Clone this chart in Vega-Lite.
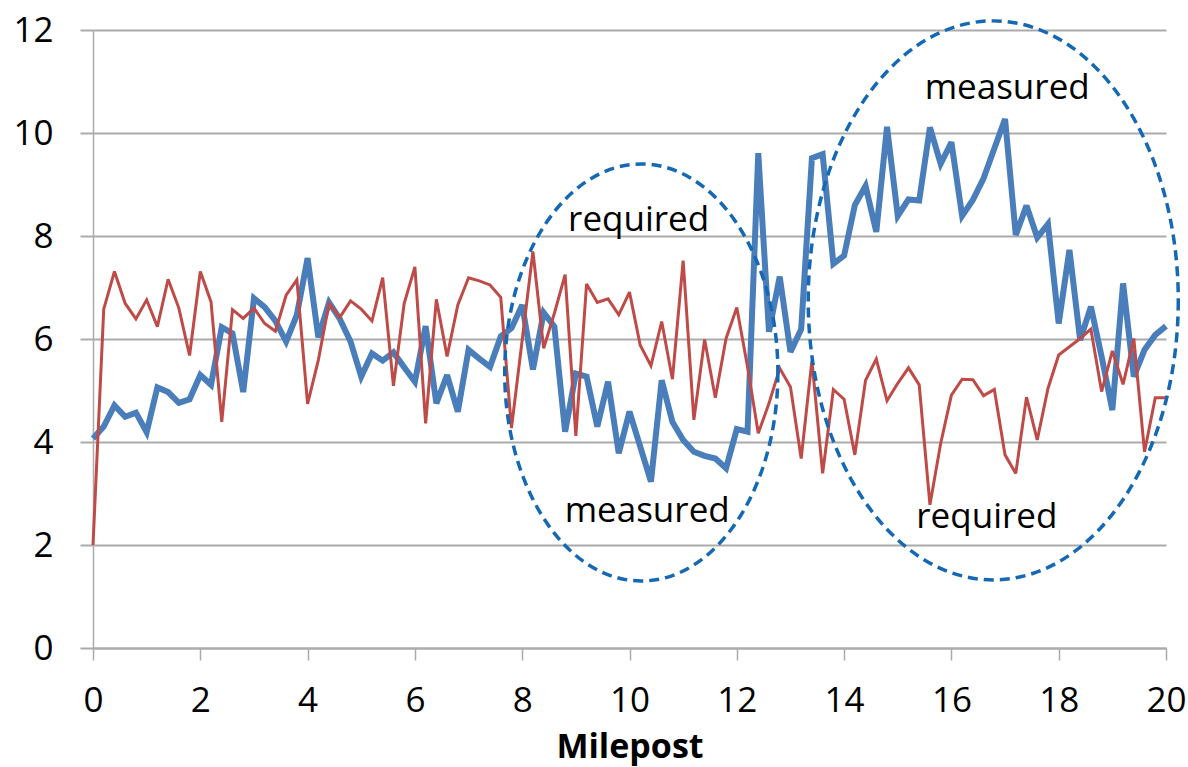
{
  "$schema": "https://vega.github.io/schema/vega-lite/v6.json",
  "autosize": {"type": "none"},
  "padding": {"left": 93, "top": 30, "right": 22, "bottom": 119},
  "width": 1073,
  "height": 618,
  "background": "white",
  "config": {
    "font": "Open Sans",
    "view": {"stroke": null},
    "axis": {"labelFont": "Open Sans", "titleFont": "Open Sans", "labelColor": "#000", "titleColor": "#000"}
  },
  "datasets": {
    "series": [
      {"mp": 0.0, "required": 2.0, "measured": 4.07},
      {"mp": 0.2, "required": 6.58, "measured": 4.30},
      {"mp": 0.4, "required": 7.31, "measured": 4.71},
      {"mp": 0.6, "required": 6.69, "measured": 4.49},
      {"mp": 0.8, "required": 6.39, "measured": 4.57},
      {"mp": 1.0, "required": 6.76, "measured": 4.19},
      {"mp": 1.2, "required": 6.24, "measured": 5.06},
      {"mp": 1.4, "required": 7.16, "measured": 4.97},
      {"mp": 1.6, "required": 6.6, "measured": 4.76},
      {"mp": 1.8, "required": 5.68, "measured": 4.83},
      {"mp": 2.0, "required": 7.31, "measured": 5.30},
      {"mp": 2.2, "required": 6.72, "measured": 5.11},
      {"mp": 2.4, "required": 4.39, "measured": 6.23},
      {"mp": 2.6, "required": 6.57, "measured": 6.11},
      {"mp": 2.8, "required": 6.40, "measured": 4.97},
      {"mp": 3.0, "required": 6.6, "measured": 6.79},
      {"mp": 3.2, "required": 6.3, "measured": 6.62},
      {"mp": 3.4, "required": 6.15, "measured": 6.35},
      {"mp": 3.6, "required": 6.85, "measured": 5.95},
      {"mp": 3.8, "required": 7.15, "measured": 6.47},
      {"mp": 4.0, "required": 4.74, "measured": 7.57},
      {"mp": 4.2, "required": 5.59, "measured": 6.03},
      {"mp": 4.4, "required": 6.69, "measured": 6.71},
      {"mp": 4.6, "required": 6.42, "measured": 6.39},
      {"mp": 4.8, "required": 6.74, "measured": 5.95},
      {"mp": 5.0, "required": 6.58, "measured": 5.27},
      {"mp": 5.2, "required": 6.35, "measured": 5.72},
      {"mp": 5.4, "required": 7.19, "measured": 5.58},
      {"mp": 5.6, "required": 5.09, "measured": 5.74},
      {"mp": 5.8, "required": 6.69, "measured": 5.45},
      {"mp": 6.0, "required": 7.40, "measured": 5.17},
      {"mp": 6.2, "required": 4.36, "measured": 6.25},
      {"mp": 6.4, "required": 6.77, "measured": 4.75},
      {"mp": 6.6, "required": 5.66, "measured": 5.30},
      {"mp": 6.8, "required": 6.66, "measured": 4.59},
      {"mp": 7.0, "required": 7.19, "measured": 5.79},
      {"mp": 7.2, "required": 7.13, "measured": 5.62},
      {"mp": 7.4, "required": 7.05, "measured": 5.46},
      {"mp": 7.6, "required": 6.81, "measured": 6.05},
      {"mp": 7.8, "required": 4.27, "measured": 6.21},
      {"mp": 8.0, "required": 5.98, "measured": 6.66},
      {"mp": 8.2, "required": 7.70, "measured": 5.41},
      {"mp": 8.4, "required": 5.82, "measured": 6.51},
      {"mp": 8.6, "required": 6.5, "measured": 6.24},
      {"mp": 8.8, "required": 7.25, "measured": 4.20},
      {"mp": 9.0, "required": 4.12, "measured": 5.33},
      {"mp": 9.2, "required": 7.07, "measured": 5.27},
      {"mp": 9.4, "required": 6.71, "measured": 4.30},
      {"mp": 9.6, "required": 6.78, "measured": 5.17},
      {"mp": 9.8, "required": 6.47, "measured": 3.78},
      {"mp": 10.0, "required": 6.91, "measured": 4.59},
      {"mp": 10.2, "required": 5.88, "measured": 3.91},
      {"mp": 10.4, "required": 5.48, "measured": 3.23},
      {"mp": 10.6, "required": 6.34, "measured": 5.20},
      {"mp": 10.8, "required": 5.22, "measured": 4.39},
      {"mp": 11.0, "required": 7.52, "measured": 4.04},
      {"mp": 11.2, "required": 4.43, "measured": 3.81},
      {"mp": 11.4, "required": 5.99, "measured": 3.73},
      {"mp": 11.6, "required": 4.86, "measured": 3.68},
      {"mp": 11.8, "required": 6.01, "measured": 3.49},
      {"mp": 12.0, "required": 6.61, "measured": 4.25},
      {"mp": 12.2, "required": 5.46, "measured": 4.20},
      {"mp": 12.4, "required": 4.17, "measured": 9.61},
      {"mp": 12.6, "required": 4.75, "measured": 6.14},
      {"mp": 12.8, "required": 5.43, "measured": 7.21},
      {"mp": 13.0, "required": 5.07, "measured": 5.75},
      {"mp": 13.2, "required": 3.68, "measured": 6.19},
      {"mp": 13.4, "required": 5.58, "measured": 9.51},
      {"mp": 13.6, "required": 3.39, "measured": 9.59},
      {"mp": 13.8, "required": 5.02, "measured": 7.46},
      {"mp": 14.0, "required": 4.83, "measured": 7.62},
      {"mp": 14.2, "required": 3.75, "measured": 8.60},
      {"mp": 14.4, "required": 5.20, "measured": 8.97},
      {"mp": 14.6, "required": 5.61, "measured": 8.08},
      {"mp": 14.8, "required": 4.80, "measured": 10.12},
      {"mp": 15.0, "required": 5.14, "measured": 8.39},
      {"mp": 15.2, "required": 5.44, "measured": 8.71},
      {"mp": 15.4, "required": 5.11, "measured": 8.69},
      {"mp": 15.6, "required": 2.78, "measured": 10.11},
      {"mp": 15.8, "required": 3.97, "measured": 9.40},
      {"mp": 16.0, "required": 4.91, "measured": 9.82},
      {"mp": 16.2, "required": 5.22, "measured": 8.39},
      {"mp": 16.4, "required": 5.21, "measured": 8.70},
      {"mp": 16.6, "required": 4.90, "measured": 9.12},
      {"mp": 16.8, "required": 5.02, "measured": 9.70},
      {"mp": 17.0, "required": 3.75, "measured": 10.27},
      {"mp": 17.2, "required": 3.39, "measured": 8.02},
      {"mp": 17.4, "required": 4.87, "measured": 8.59},
      {"mp": 17.6, "required": 4.04, "measured": 7.97},
      {"mp": 17.8, "required": 5.04, "measured": 8.23},
      {"mp": 18.0, "required": 5.69, "measured": 6.30},
      {"mp": 18.2, "required": 5.85, "measured": 7.73},
      {"mp": 18.4, "required": 6.01, "measured": 5.98},
      {"mp": 18.6, "required": 6.19, "measured": 6.63},
      {"mp": 18.8, "required": 4.98, "measured": 5.66},
      {"mp": 19.0, "required": 5.77, "measured": 4.62},
      {"mp": 19.2, "required": 5.12, "measured": 7.08},
      {"mp": 19.4, "required": 6.01, "measured": 5.27},
      {"mp": 19.6, "required": 3.81, "measured": 5.79},
      {"mp": 19.8, "required": 4.86, "measured": 6.08},
      {"mp": 20.0, "required": 4.86, "measured": 6.25}
    ],
    "labels": [
      {"label": "required", "mp": 10.17, "val": 8.10},
      {"label": "measured", "mp": 10.33, "val": 2.44},
      {"label": "measured", "mp": 17.04, "val": 10.66},
      {"label": "required", "mp": 16.66, "val": 2.33}
    ],
    "leftRegion": [{"mp": 10.22, "val": 5.35}],
    "rightRegion": [{"mp": 16.78, "val": 6.75}]
  },
  "layer": [
    {
      "data": {"name": "series"},
      "mark": {"type": "line", "color": "#4A7EBB", "strokeWidth": 6, "strokeJoin": "miter", "strokeMiterLimit": 3},
      "encoding": {
        "x": {
          "field": "mp", "type": "quantitative",
          "scale": {"domain": [0, 20], "nice": false, "zero": false},
          "axis": {
            "title": "Milepost", "titleFontSize": 34, "titleFontWeight": "bold",
            "titleBaseline": "alphabetic", "titleY": 109, "titleX": 536.5, "titleAnchor": "middle", "titleAlign": "center",
            "values": [0, 2, 4, 6, 8, 10, 12, 14, 16, 18, 20],
            "labelFontSize": 35, "labelBaseline": "alphabetic", "labelPadding": 51, "labelFlush": false,
            "tickSize": 12, "tickColor": "#ABABAB", "tickWidth": 1.5,
            "domainColor": "#ABABAB", "domainWidth": 2,
            "grid": false
          }
        },
        "y": {
          "field": "measured", "type": "quantitative",
          "scale": {"domain": [0, 12], "nice": false},
          "axis": {
            "title": null,
            "values": [0, 2, 4, 6, 8, 10, 12],
            "labelFontSize": 35, "labelPadding": 27, "labelFlush": false,
            "tickSize": 13, "tickColor": "#ABABAB", "tickWidth": 2,
            "domainColor": "#ABABAB", "domainWidth": 1.5,
            "grid": true, "gridColor": "#ABABAB", "gridWidth": 2
          }
        }
      }
    },
    {
      "data": {"name": "series"},
      "mark": {"type": "line", "color": "#BE4B48", "strokeWidth": 3, "strokeJoin": "miter", "strokeMiterLimit": 3},
      "encoding": {
        "x": {"field": "mp", "type": "quantitative"},
        "y": {"field": "required", "type": "quantitative"}
      }
    },
    {
      "data": {"name": "leftRegion"},
      "mark": {
        "type": "point", "filled": false, "opacity": 1,
        "shape": "M 0.655 0 C 0.655 0.5523 0.3617 1 0 1 C -0.3617 1 -0.655 0.5523 -0.655 0 C -0.655 -0.5523 -0.3617 -1 0 -1 C 0.3617 -1 0.655 -0.5523 0.655 0 Z",
        "size": 173889, "stroke": "#1468B4", "strokeWidth": 3.5, "strokeDash": [10, 6]
      },
      "encoding": {
        "x": {"field": "mp", "type": "quantitative"},
        "y": {"field": "val", "type": "quantitative"}
      }
    },
    {
      "data": {"name": "rightRegion"},
      "mark": {
        "type": "point", "filled": false, "opacity": 1,
        "shape": "M 0.662 0 C 0.662 0.5523 0.3656 1 0 1 C -0.3656 1 -0.662 0.5523 -0.662 0 C -0.662 -0.5523 -0.3656 -1 0 -1 C 0.3656 -1 0.662 -0.5523 0.662 0 Z",
        "size": 312481, "stroke": "#1468B4", "strokeWidth": 3.5, "strokeDash": [10, 6]
      },
      "encoding": {
        "x": {"field": "mp", "type": "quantitative"},
        "y": {"field": "val", "type": "quantitative"}
      }
    },
    {
      "data": {"name": "labels"},
      "mark": {"type": "text", "font": "Open Sans", "fontSize": 35, "color": "#000", "align": "center", "baseline": "alphabetic"},
      "encoding": {
        "x": {"field": "mp", "type": "quantitative"},
        "y": {"field": "val", "type": "quantitative"},
        "text": {"field": "label"}
      }
    }
  ]
}
